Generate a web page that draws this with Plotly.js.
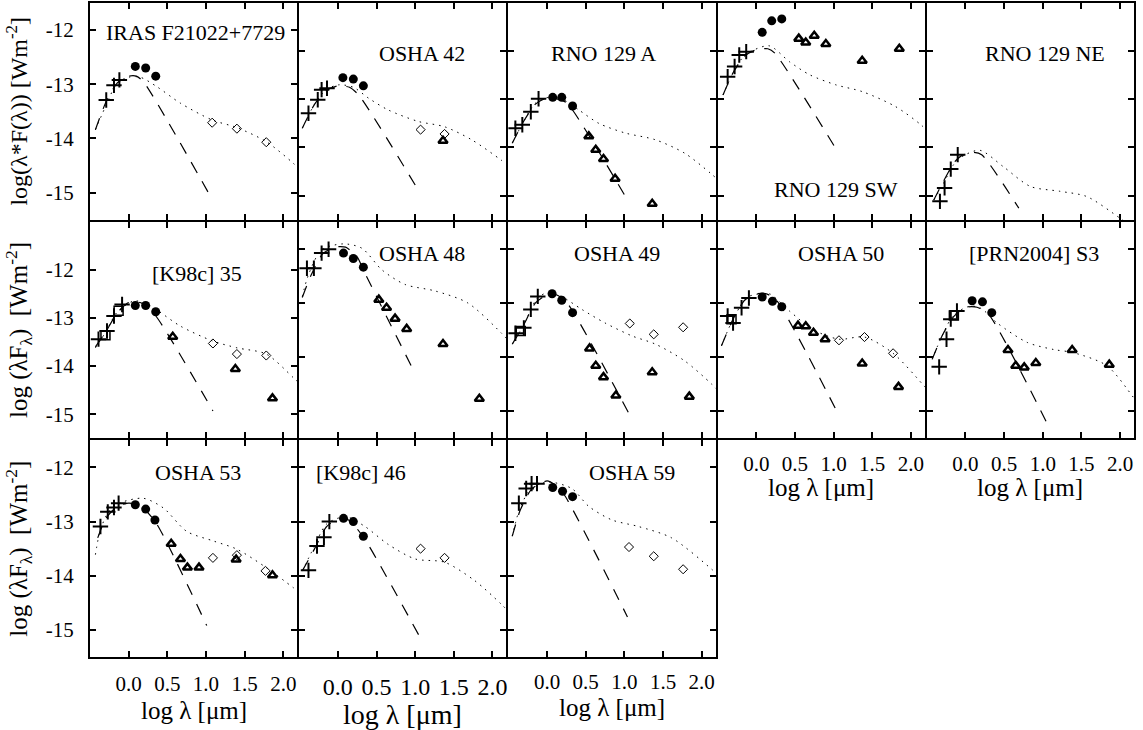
<!DOCTYPE html>
<html><head><meta charset="utf-8">
<script src="https://cdn.plot.ly/plotly-3.0.1.min.js"></script>
<style>html,body{margin:0;padding:0;background:#fff}</style>
</head><body><div id="chart" style="width:1143px;height:730px"></div>
<script>
const panelNames = ["IRAS F21022+7729","OSHA 42","RNO 129 A","RNO 129 SW","RNO 129 NE",
  "[K98c] 35","OSHA 48","OSHA 49","OSHA 50","[PRN2004] S3",
  "OSHA 53","[K98c] 46","OSHA 59"];

const xTickVals = [0, 0.5, 1, 1.5, 2];
const xTickText = ["0.0","0.5","1.0","1.5","2.0"];
const yTickVals = [-12, -13, -14, -15];
const yTickText = ["-12","-13","-14","-15"];
const xTitle = "log λ [μm]";
const yTitles = ["log(λ*F(λ)) [Wm<sup>-2</sup>]", "log (λF<sub>λ</sub>)\u00a0 [Wm<sup>-2</sup>]", "log (λF<sub>λ</sub>)\u00a0 [Wm<sup>-2</sup>]"];

// optical photometry (plus signs)
const plusX = [
 [-0.29,-0.19,-0.12],
 [-0.38,-0.26,-0.21,-0.14],
 [-0.41,-0.32,-0.21,-0.11],
 [-0.37,-0.28,-0.22,-0.13],
 [-0.33,-0.27,-0.19,-0.10],
 [-0.39,-0.28,-0.19,-0.085],
 [-0.40,-0.31,-0.21,-0.12],
 [-0.41,-0.30,-0.21,-0.12],
 [-0.37,-0.30,-0.19,-0.095],
 [-0.34,-0.245,-0.19,-0.11],
 [-0.365,-0.27,-0.19,-0.13],
 [-0.38,-0.27,-0.18,-0.11],
 [-0.365,-0.27,-0.20,-0.13]
];
const plusY = [
 [-13.29,-13.02,-12.92],
 [-13.29,-13.01,-12.80,-12.77],
 [-13.60,-13.53,-13.26,-12.99],
 [-12.53,-12.32,-12.08,-12.01],
 [-15.12,-14.84,-14.45,-14.15],
 [-13.44,-13.27,-12.96,-12.72],
 [-12.36,-12.36,-12.08,-12.01],
 [-13.56,-13.46,-13.12,-12.88],
 [-13.24,-13.37,-13.09,-12.91],
 [-14.18,-13.67,-13.30,-13.15],
 [-13.09,-12.82,-12.74,-12.66],
 [-13.90,-13.45,-13.29,-13.00],
 [-12.66,-12.39,-12.30,-12.30]
];
// near-IR photometry (filled circles)
const circX = [
 [0.086,0.22,0.35],[0.065,0.20,0.33],[0.073,0.19,0.33],[0.077,0.20,0.33],[],
 [0.086,0.22,0.35],[0.073,0.20,0.33],[0.065,0.19,0.33],[0.077,0.21,0.33],[0.086,0.22,0.34],
 [0.086,0.22,0.34],[0.073,0.20,0.33],[0.073,0.20,0.33]
];
const circY = [
 [-12.67,-12.70,-12.85],[-12.55,-12.58,-12.72],[-12.96,-12.96,-13.14],[-11.61,-11.37,-11.33],[],
 [-12.74,-12.74,-12.87],[-12.08,-12.18,-12.34],[-12.83,-12.95,-13.18],[-12.89,-12.97,-13.07],[-12.96,-12.98,-13.18],
 [-12.69,-12.77,-12.97],[-12.94,-13.00,-13.27],[-12.37,-12.44,-12.54]
];
// IRAS (open diamonds)
const diaX = [
 [1.08,1.40,1.78],[1.07,1.38],[],[],[],
 [1.09,1.40,1.78],[],[1.07,1.38,1.76],[1.07,1.40,1.77],[],
 [1.09,1.40,1.77],[1.07,1.38],[1.06,1.38,1.76]
];
const diaY = [
 [-13.71,-13.82,-14.07],[-13.63,-13.72],[],[],[],
 [-13.53,-13.75,-13.78],[],[-13.38,-13.58,-13.45],[-13.69,-13.63,-13.93],[],
 [-13.67,-13.62,-13.91],[-13.50,-13.67],[-13.47,-13.64,-13.88]
];
// Spitzer (open triangles)
const triX = [
 [],[1.36],[0.54,0.63,0.73,0.88,1.36],[0.55,0.64,0.75,0.90,1.37,1.85],[],
 [0.57,1.38,1.86],[0.53,0.63,0.74,0.89,1.36,1.83],[0.55,0.63,0.73,0.89,1.36,1.84],[0.54,0.64,0.74,0.89,1.37,1.84],[0.55,0.65,0.76,0.91,1.38,1.86],
 [0.55,0.67,0.76,0.91,1.39,1.86],[],[]
];
const triY = [
 [],[-13.86],[-13.77,-14.05,-14.24,-14.65,-15.17],[-11.74,-11.82,-11.68,-11.85,-12.20,-11.95],[],
 [-13.39,-14.06,-14.67],[-12.94,-13.09,-13.29,-13.48,-13.76,-14.77],[-13.84,-14.16,-14.37,-14.71,-14.28,-14.73],[-13.42,-13.43,-13.55,-13.67,-14.12,-14.55],[-13.87,-14.16,-14.19,-14.11,-13.87,-14.14],
 [-13.41,-13.69,-13.85,-13.85,-13.70,-13.99],[],[]
];
// extra optical points (open squares)
const sqX = [[],[],[],[],[], [-0.30,-0.13],[],[-0.34],[-0.32],[-0.15], [],[],[]];
const sqY = [[],[],[],[],[], [-13.36,-12.85],[],[-13.52],[-13.30],[-13.23], [],[],[]];

// photosphere model (dashed)
const photX = [
 [-0.43,-0.30,-0.15,0.00,0.10,0.19,1.07],
 [-0.46,-0.30,-0.15,0.00,0.15,0.27,1.06],
 [-0.45,-0.30,-0.15,0.00,0.15,0.26,1.05],
 [-0.43,-0.30,-0.15,0.00,0.15,0.24,1.05],
 [-0.41,-0.30,-0.15,-0.05,0.10,0.21,0.69],
 [-0.43,-0.30,-0.15,0.00,0.15,0.32,1.09],
 [-0.46,-0.35,-0.20,-0.05,0.10,0.25,0.34,0.99],
 [-0.45,-0.30,-0.15,0.00,0.12,0.26,1.05],
 [-0.45,-0.30,-0.15,0.00,0.12,0.25,1.07],
 [-0.43,-0.30,-0.15,0.00,0.15,0.30,1.09],
 [-0.40,-0.30,-0.15,0.00,0.15,0.357,1.01],
 [-0.46,-0.30,-0.15,0.00,0.15,0.35,1.06],
 [-0.45,-0.35,-0.20,0.00,0.10,0.22,1.04]
];
const photY = [
 [-13.84,-13.35,-12.98,-12.85,-12.85,-12.95,-15.10],
 [-13.60,-13.10,-12.82,-12.72,-12.75,-12.91,-14.94],
 [-13.91,-13.45,-13.10,-12.97,-13.00,-13.08,-15.12],
 [-12.91,-12.45,-12.10,-11.97,-11.95,-12.04,-14.08],
 [-15.09,-14.75,-14.32,-14.17,-14.10,-14.15,-15.26],
 [-13.60,-13.30,-12.90,-12.68,-12.68,-12.89,-14.93],
 [-12.90,-12.50,-12.10,-11.97,-11.97,-12.15,-12.42,-14.28],
 [-13.76,-13.40,-13.00,-12.85,-12.85,-13.00,-15.02],
 [-13.79,-13.30,-12.95,-12.83,-12.83,-12.93,-15.08],
 [-14.04,-13.60,-13.25,-13.08,-13.08,-13.21,-15.32],
 [-13.30,-12.95,-12.72,-12.66,-12.70,-13.03,-14.92],
 [-13.91,-13.50,-13.10,-12.95,-12.98,-13.33,-15.13],
 [-13.27,-12.80,-12.40,-12.25,-12.32,-12.50,-14.76]
];
// star + disk model (dotted)
const diskX = [
 [-0.43,-0.28,-0.15,0.00,0.15,0.37,0.67,1.08,1.40,1.78,2.13,2.30],
 [-0.46,-0.30,-0.15,0.01,0.20,0.40,0.65,1.04,1.38,1.73,2.11,2.30],
 [-0.45,-0.30,-0.15,0.05,0.20,0.41,0.67,1.01,1.40,1.78,2.11,2.30],
 [-0.43,-0.30,-0.15,-0.04,0.17,0.43,0.69,1.03,1.37,1.80,2.13,2.30],
 [-0.41,-0.30,-0.15,0.00,0.19,0.49,0.84,1.22,1.57,2.00,2.20],
 [-0.43,-0.30,-0.15,0.06,0.20,0.37,0.67,1.09,1.40,1.78,2.13,2.30],
 [-0.46,-0.38,-0.21,0.07,0.31,0.57,0.87,1.26,1.68,2.11,2.30],
 [-0.45,-0.30,-0.12,0.05,0.19,0.45,0.75,1.10,1.40,1.78,2.13,2.30],
 [-0.45,-0.30,-0.12,0.05,0.17,0.43,0.73,1.07,1.40,1.77,2.15,2.30],
 [-0.43,-0.30,-0.15,0.06,0.20,0.41,0.80,1.14,1.40,1.83,2.17,2.30],
 [-0.43,-0.365,-0.25,-0.10,0.19,0.45,0.75,1.10,1.40,1.78,2.13,2.30],
 [-0.46,-0.30,-0.15,0.10,0.35,0.65,1.00,1.38,1.77,2.11,2.30],
 [-0.45,-0.35,-0.20,0.02,0.32,0.54,0.84,1.18,1.61,2.13,2.30]
];
const diskY = [
 [-13.84,-13.35,-12.98,-12.87,-12.87,-13.05,-13.35,-13.66,-13.80,-14.06,-14.46,-14.70],
 [-13.60,-13.10,-12.80,-12.70,-12.75,-12.98,-13.22,-13.46,-13.57,-13.84,-14.26,-14.50],
 [-13.91,-13.45,-13.08,-12.95,-13.00,-13.22,-13.50,-13.70,-13.84,-14.12,-14.53,-14.80],
 [-12.91,-12.45,-12.08,-11.98,-11.89,-12.22,-12.49,-12.70,-12.84,-13.15,-13.53,-13.80],
 [-15.09,-14.80,-14.35,-14.15,-14.06,-14.40,-14.81,-14.91,-15.02,-15.47,-15.70],
 [-13.62,-13.30,-12.88,-12.65,-12.68,-12.84,-13.17,-13.48,-13.62,-13.75,-14.24,-14.50],
 [-12.88,-12.48,-12.02,-11.91,-11.99,-12.39,-12.66,-12.78,-13.00,-13.55,-13.85],
 [-13.76,-13.40,-12.90,-12.80,-12.88,-13.12,-13.37,-13.61,-13.76,-14.07,-14.50,-14.75],
 [-13.79,-13.30,-12.90,-12.83,-12.83,-13.15,-13.49,-13.67,-13.63,-13.93,-14.50,-14.75],
 [-14.04,-13.60,-13.22,-13.06,-13.10,-13.37,-13.73,-13.86,-13.92,-14.16,-14.74,-15.00],
 [-13.61,-13.15,-12.80,-12.65,-12.57,-12.75,-13.18,-13.36,-13.51,-13.85,-14.22,-14.40],
 [-13.91,-13.45,-13.05,-12.91,-13.09,-13.42,-13.69,-13.75,-14.09,-14.52,-14.80],
 [-13.27,-12.75,-12.38,-12.27,-12.39,-12.72,-12.97,-13.09,-13.30,-13.88,-14.10]
];

// ---- layout configuration ----
const FONT = 'Liberation Serif, DejaVu Serif, serif';
const xRange = [-0.5, 2.18];
const yRanges = [
 [-15.5,-11.5],[-15.5,-11],[-15.5,-11],[-15.5,-11],[-15.5,-11],
 [-15.5,-11],[-15.5,-11.5],[-15.5,-11.5],[-15.5,-11.5],[-15.5,-11.5],
 [-15.5,-11.5],[-15.5,-11.5],[-15.5,-11.5]
];
const colOf = [0,1,2,3,4,0,1,2,3,4,0,1,2];
const rowOf = [0,0,0,0,0,1,1,1,1,1,2,2,2];
// pixel geometry of the panel grid (plot area 1044 x 654 px, 2px between panels for the frame lines)
const PW = 1044, PH = 654, GAP = 2;
const cellW = (PW - 4 * GAP) / 5, cellH = (PH - 2 * GAP) / 3;
const colDomains = [0,1,2,3,4].map(c => [c * (cellW + GAP) / PW, (c * (cellW + GAP) + cellW) / PW]);
const rowDomains = [0,1,2].map(r => [1 - (r * (cellH + GAP) + cellH) / PH, 1 - r * (cellH + GAP) / PH]);
const showXLabels = [false,false,false,false,false,false,false,false,true,true,true,true,true];
const xLabelSize = [21,21,21,21,21,21,21,21,21,21,21,24,21];
const xLabelStandoff = [10,10,10,10,10,10,10,10,5,5,7,7,5];
const xTitleSize = [25,25,25,25,25,25,25,25,25,25,25,28,25];
const xTitleY = [0,0,0,0,0,0,0,0,-0.226,-0.226,-0.245,-0.265,-0.232];
const yTitleSize = [24, 25, 25];
const titlePos = [
 [0.51,0.866],[0.594,0.768],[0.458,0.768],[0.572,0.138],[0.569,0.765],
 [0.515,0.76],[0.594,0.855],[0.523,0.855],[0.596,0.855],[0.515,0.853],
 [0.519,0.851],[0.296,0.851],[0.595,0.851]
];

const traces = [];
const layout = {
  width: 1143, height: 730,
  margin: {l: 90, r: 9, t: 3, b: 73, pad: 0},
  paper_bgcolor: '#fff', plot_bgcolor: '#fff',
  showlegend: false,
  font: {family: FONT, color: '#000', size: 21},
  annotations: []
};

for (let i = 0; i < 13; i++) {
  const s = i === 0 ? '' : String(i + 1);
  const xa = 'x' + s, ya = 'y' + s;
  const c = colOf[i], r = rowOf[i];
  const common = {
    showline: true, linecolor: '#000', linewidth: 2, mirror: 'ticks',
    ticks: 'inside', ticklen: 6, tickwidth: 2, tickcolor: '#000',
    showgrid: false, zeroline: false, fixedrange: true
  };
  layout['xaxis' + s] = Object.assign({}, common, {
    domain: colDomains[c], anchor: ya, range: xRange,
    tickmode: 'array', tickvals: xTickVals, ticktext: xTickText,
    showticklabels: showXLabels[i],
    ticklabelstandoff: xLabelStandoff[i],
    tickfont: {family: FONT, size: xLabelSize[i], color: '#000'}
  });
  const yax = Object.assign({}, common, {
    domain: rowDomains[r], anchor: xa, range: yRanges[i],
    tickmode: 'array', tickvals: yTickVals, ticktext: yTickText,
    showticklabels: c === 0,
    ticklabelstandoff: 10,
    tickfont: {family: FONT, size: 21, color: '#000'}
  });
  if (c === 0) yax.title = {text: yTitles[r], standoff: 11, font: {family: FONT, size: yTitleSize[r], color: '#000'}};
  layout['yaxis' + s] = yax;

  traces.push({x: diskX[i], y: diskY[i], xaxis: xa, yaxis: ya, type: 'scatter', mode: 'lines',
    line: {color: '#000', width: 1, dash: '1.5px,5px', shape: 'spline', smoothing: 0.8}, hoverinfo: 'skip'});
  traces.push({x: photX[i], y: photY[i], xaxis: xa, yaxis: ya, type: 'scatter', mode: 'lines',
    line: {color: '#000', width: 1.2, dash: '12px,10px', shape: 'spline', smoothing: 0.6}, hoverinfo: 'skip'});
  traces.push({x: diaX[i], y: diaY[i], xaxis: xa, yaxis: ya, type: 'scatter', mode: 'markers',
    marker: {symbol: 'diamond-open', size: 7, color: '#000', line: {width: 1, color: '#000'}}});
  traces.push({x: sqX[i], y: sqY[i], xaxis: xa, yaxis: ya, type: 'scatter', mode: 'markers',
    marker: {symbol: 'square-open', size: 9, color: '#000', line: {width: 1.5, color: '#000'}}});
  traces.push({x: triX[i], y: triY[i], xaxis: xa, yaxis: ya, type: 'scatter', mode: 'markers',
    marker: {symbol: 'triangle-up-open', size: 8, color: '#000', line: {width: 2.5, color: '#000'}}});
  traces.push({x: circX[i], y: circY[i], xaxis: xa, yaxis: ya, type: 'scatter', mode: 'markers',
    marker: {symbol: 'circle', size: 9, color: '#000', line: {width: 0}}});
  traces.push({x: plusX[i], y: plusY[i], xaxis: xa, yaxis: ya, type: 'scatter', mode: 'markers',
    marker: {symbol: 'cross-thin', size: 11, color: '#000', line: {width: 2, color: '#000'}}});

  layout.annotations.push({
    text: panelNames[i], showarrow: false,
    xref: xa + ' domain', yref: ya + ' domain',
    x: titlePos[i][0], y: titlePos[i][1], xanchor: 'center', yanchor: 'middle',
    font: {family: FONT, size: 22, color: '#000'}
  });
  if (showXLabels[i]) {
    layout.annotations.push({
      text: xTitle, showarrow: false,
      xref: xa + ' domain', yref: ya + ' domain',
      x: 0.5, y: xTitleY[i], xanchor: 'center', yanchor: 'middle',
      font: {family: FONT, size: xTitleSize[i], color: '#000'}
    });
  }
}

Plotly.newPlot('chart', traces, layout, {staticPlot: true});
</script>
</body></html>
